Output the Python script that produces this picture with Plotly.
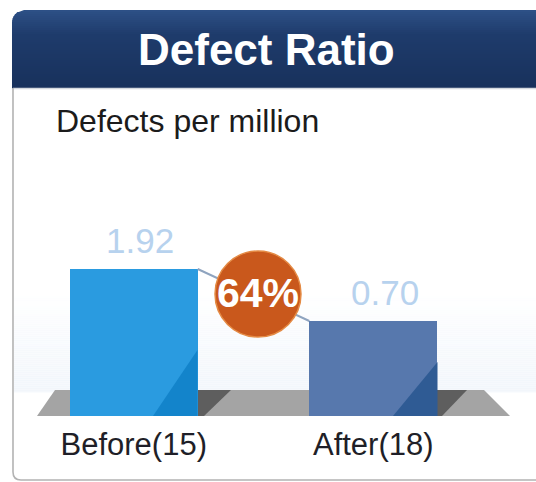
import math
import plotly.graph_objects as go

# ---------------- data ----------------
categories = ["Before(15)", "After(18)"]
values = [1.92, 0.70]
value_labels = ["1.92", "0.70"]
bar_colors = ["#2a9be0", "#5778ad"]
shade_colors = ["#1384cb", "#2f5b94"]
title_text = "Defect Ratio"
subtitle_text = "Defects per million"

# ---------------- geometry helpers ----------------
W, H = 536, 482
ML, MR, MT, MB = 14, 43, 150, 66
PW = W - ML - MR
PH = H - MT - MB
FONT = "Liberation Sans, Arial, sans-serif"


def px(x):
    return (x - ML) / PW


def py(y):
    return (H - MB - y) / PH


def poly(points):
    s = "M " + " L ".join(f"{px(x):.5f},{py(y):.5f}" for x, y in points) + " Z"
    return s


reduction = round((1 - values[1] / values[0]) * 100)
bar_w = 0.534

fig = go.Figure()

fig.add_trace(go.Bar(
    x=[0, 1], y=values, width=bar_w,
    marker=dict(color=bar_colors, line=dict(width=0)),
    hoverinfo="skip", showlegend=False,
))

fig.add_trace(go.Scatter(
    x=[bar_w / 2, 1 - bar_w / 2], y=values, mode="lines",
    line=dict(color="#8fa4bf", width=2),
    hoverinfo="skip", showlegend=False,
))

shapes = []

# faint background tint (smooth)
y = 290
while y < 392:
    t = (y - 290) / (392 - 290)
    a = 0.38 * t
    shapes.append(dict(type="rect", xref="paper", yref="paper",
                       x0=px(14), x1=px(540), y0=py(y + 2.5), y1=py(y),
                       fillcolor=f"rgba(228,237,248,{a:.3f})", line=dict(width=0), layer="below"))
    y += 2

# header with gradient bands and rounded top-left corner
top, bot, left, r = 10, 88, 12, 12
c_top = (45, 80, 134)
c_mid = (31, 60, 108)
c_bot = (24, 49, 92)
step = 2
y = top
while y < bot:
    y2 = min(y + step, bot)
    t = (y - top) / (bot - top)
    if t < 0.3:
        f = t / 0.3
        col = tuple(int(c_top[k] + (c_mid[k] - c_top[k]) * f) for k in range(3))
    else:
        f = (t - 0.3) / 0.7
        col = tuple(int(c_mid[k] + (c_bot[k] - c_mid[k]) * f) for k in range(3))

    def lx(yy):
        if yy >= top + r:
            return left
        d = (top + r) - yy
        return left + r - math.sqrt(max(r * r - d * d, 0))

    pts = [(lx(y), y), (540, y), (540, y2 + 0.6), (lx(y2), y2 + 0.6)]
    shapes.append(dict(type="path", xref="paper", yref="paper", path=poly(pts),
                       fillcolor="rgb(%d,%d,%d)" % col, line=dict(width=0), layer="below"))
    y = y2

# separator under header
shapes.append(dict(type="line", xref="paper", yref="paper",
                   x0=px(13), x1=px(540), y0=py(88.5), y1=py(88.5),
                   line=dict(color="#d4d8de", width=1.5), layer="below"))

# panel border (left + bottom, rounded)
shapes.append(dict(type="path", xref="paper", yref="paper",
                   path=(f"M {px(13):.5f},{py(88):.5f} L {px(13):.5f},{py(472):.5f} "
                         f"Q {px(13):.5f},{py(480):.5f} {px(21):.5f},{py(480):.5f} "
                         f"L {px(540):.5f},{py(480):.5f}"),
                   line=dict(color="#b3b3b3", width=1.6), layer="below"))

# ground plane
shapes.append(dict(type="path", xref="paper", yref="paper",
                   path=poly([(55, 390), (484, 390), (510, 416), (37, 416)]),
                   fillcolor="#a4a4a4", line=dict(width=0), layer="below"))
# dark shadows behind bars
shapes.append(dict(type="path", xref="paper", yref="paper",
                   path=poly([(196, 390), (231, 390), (204, 416), (196, 416)]),
                   fillcolor="#5e5e5e", line=dict(width=0), layer="below"))
shapes.append(dict(type="path", xref="paper", yref="paper",
                   path=poly([(436, 390), (467, 390), (442, 416), (436, 416)]),
                   fillcolor="#5e5e5e", line=dict(width=0), layer="below"))

# bar shading triangles (lower right)
shapes.append(dict(type="path", xref="paper", yref="paper",
                   path=poly([(197.5, 350), (197.5, 416), (153, 416)]),
                   fillcolor=shade_colors[0], line=dict(width=0), layer="above"))
shapes.append(dict(type="path", xref="paper", yref="paper",
                   path=poly([(437.5, 362), (437.5, 416), (393, 416)]),
                   fillcolor=shade_colors[1], line=dict(width=0), layer="above"))

# orange badge
cx, cy, cr = 258, 294, 43
shapes.append(dict(type="circle", xref="paper", yref="paper",
                   x0=px(cx - cr), x1=px(cx + cr), y0=py(cy + cr), y1=py(cy - cr),
                   fillcolor="#c9581c", line=dict(color="#e48a44", width=1.5), layer="above"))

annotations = [
    dict(text=f"<b>{title_text}</b>", xref="paper", yref="paper",
         x=px(266), y=py(50), xanchor="center", yanchor="middle", showarrow=False,
         font=dict(family=FONT, size=44, color="white")),
    dict(text=subtitle_text, xref="paper", yref="paper",
         x=px(54), y=py(121), xanchor="left", yanchor="middle", showarrow=False,
         font=dict(family=FONT, size=32, color="#1b1b1b")),
    dict(text=f"<b>{reduction}%</b>", xref="paper", yref="paper",
         x=px(cx), y=py(cy - 1), xanchor="center", yanchor="middle", showarrow=False,
         font=dict(family=FONT, size=41, color="white")),
]
for i, (v, lab) in enumerate(zip(values, value_labels)):
    annotations.append(dict(text=lab, xref="x", yref="y", x=i, y=math.log10(v),
                            yshift=29, xshift=[6, 12][i], xanchor="center", yanchor="middle",
                            showarrow=False, font=dict(family=FONT, size=35, color="#b7d2ee")))

fig.update_layout(
    width=W, height=H,
    margin=dict(l=ML, r=MR, t=MT, b=MB, pad=0),
    paper_bgcolor="white", plot_bgcolor="rgba(0,0,0,0)",
    showlegend=False, bargap=0,
    shapes=shapes, annotations=annotations,
    xaxis=dict(range=[-0.5, 1.5], tickmode="array", tickvals=[0, 1], ticktext=categories,
               showgrid=False, zeroline=False, showline=False, ticks="",
               ticklabelstandoff=7,
               tickfont=dict(family=FONT, size=31, color="#1f1f28"), fixedrange=True),
    yaxis=dict(type="log", range=[-0.95553, 1.28617], visible=False,
               showgrid=False, zeroline=False, fixedrange=True),
)

fig.write_html("out.html", config={"displayModeBar": False},
               post_script="document.body.style.margin='0px';document.body.style.overflow='hidden';")
